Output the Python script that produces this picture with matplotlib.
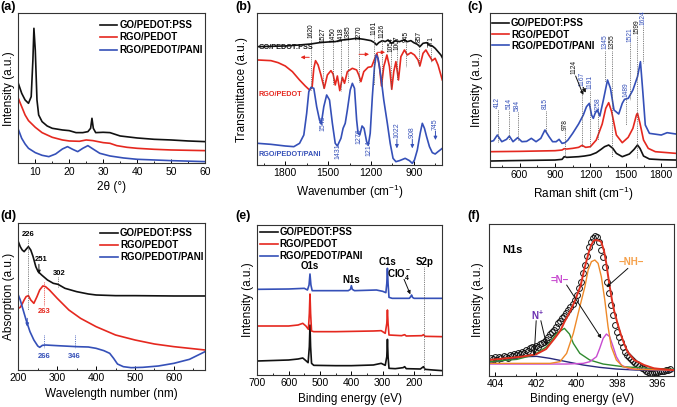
import numpy as np
import matplotlib
matplotlib.use('Agg')
import matplotlib.pyplot as plt
from matplotlib.ticker import MultipleLocator

plt.rcParams['font.family'] = ['Liberation Sans', 'DejaVu Sans']
plt.rcParams['mathtext.default'] = 'regular'

BLACK = '#111111'
RED = '#E5281F'
BLUE = '#3550B8'
GRAY = '#555555'
names = ['GO/PEDOT:PSS', 'RGO/PEDOT', 'RGO/PEDOT/PANI']

# (a) XRD
xrd_go_x = [5, 6, 7, 8, 8.8, 9.3, 9.6, 10, 10.5, 11, 12, 13.5, 15, 18, 20, 22, 24, 25.5, 26.3, 26.7, 27.1, 27.8, 30, 32, 33.5, 35, 40, 45, 50, 55, 60]
xrd_go_y = [240, 210, 190, 180, 200, 310, 405, 340, 190, 145, 125, 112, 105, 100, 98, 92, 92, 95, 105, 135, 105, 92, 93, 92, 87, 82, 76, 72, 70, 67, 65]
xrd_rgo_x = [5, 6, 7, 8, 10, 12, 15, 18, 20, 23, 25, 27, 30, 32, 34, 37, 40, 45, 50, 60]
xrd_rgo_y = [195, 170, 145, 128, 108, 92, 78, 70, 67, 66, 70, 68, 62, 60, 53, 48, 45, 42, 40, 38]
xrd_pani_x = [5, 6, 7, 8, 10, 12, 14, 16, 18, 19.5, 21, 22.5, 24, 25.5, 27, 29, 32, 36, 40, 50, 60]
xrd_pani_y = [102, 75, 58, 45, 32, 24, 20, 28, 43, 50, 42, 35, 45, 53, 43, 30, 22, 16, 12, 8, 5]

# (b) FTIR
ir_go_x = [1992, 1900, 1800, 1700, 1620, 1560, 1500, 1450, 1400, 1350, 1300, 1250, 1200, 1175, 1161, 1145, 1120, 1100, 1080, 1054, 1030, 1000, 970, 945, 920, 900, 875, 857, 835, 810, 790, 770, 750, 730, 710, 700]
ir_go_y = [355, 356, 357, 360, 363, 367, 369, 370, 375, 377, 380, 377, 373, 367, 360, 367, 373, 370, 375, 365, 373, 370, 375, 370, 373, 367, 362, 355, 365, 367, 360, 357, 350, 340, 330, 322]
ir_rgo_x = [1992, 1900, 1850, 1800, 1750, 1700, 1660, 1630, 1612, 1600, 1588, 1570, 1550, 1527, 1505, 1480, 1465, 1450, 1435, 1418, 1400, 1385, 1365, 1330, 1300, 1285, 1270, 1250, 1220, 1195, 1175, 1158, 1140, 1126, 1110, 1088, 1070, 1054, 1040, 1025, 1007, 990, 965, 945, 920, 895, 870, 857, 835, 815, 795, 780, 771, 750, 730, 700]
ir_rgo_y = [315, 313, 307, 297, 280, 255, 237, 225, 233, 290, 313, 300, 270, 230, 270, 283, 273, 240, 267, 223, 263, 245, 280, 290, 285, 270, 250, 280, 293, 295, 317, 335, 295, 237, 295, 330, 295, 227, 280, 310, 255, 325, 345, 330, 337, 330, 315, 297, 335, 345, 330, 320, 313, 320, 300, 255]
ir_pani_x = [1992, 1900, 1800, 1740, 1700, 1670, 1650, 1635, 1620, 1600, 1580, 1560, 1548, 1530, 1510, 1490, 1470, 1450, 1435, 1410, 1395, 1380, 1365, 1345, 1330, 1315, 1300, 1290, 1278, 1262, 1248, 1230, 1218, 1205, 1190, 1175, 1163, 1150, 1130, 1110, 1085, 1065, 1045, 1025, 1000, 960, 930, 910, 895, 875, 855, 840, 825, 810, 790, 770, 750, 730, 700]
ir_pani_y = [65, 62, 57, 55, 65, 90, 155, 220, 233, 230, 175, 135, 123, 175, 210, 195, 125, 65, 57, 80, 110, 125, 165, 225, 245, 230, 135, 95, 90, 117, 110, 70, 60, 95, 205, 295, 330, 320, 265, 195, 125, 65, 20, 10, 13, 20, 13, 5, 15, 45, 95, 125, 110, 85, 55, 37, 33, 40, 50]
ir_marks = [1620, 1527, 1450, 1418, 1385, 1270, 1161, 1126, 1054, 1007, 945, 857, 771]
ir_mark_x = [1620, 1538, 1466, 1412, 1358, 1283, 1178, 1120, 1062, 1015, 952, 864, 778]
ir_mark_top = [380, 370, 370, 370, 375, 375, 390, 380, 340, 345, 370, 370, 355]
ir_mark_end = [225, 230, 240, 223, 245, 250, 240, 237, 227, 255, 295, 297, 310]
ir_pani_marks = ['1545', '1431', '1276', '1214']
ir_pani_mx = [1538, 1434, 1283, 1217]
ir_pani_my = [125, 40, 85, 50]
ir_pani_arrows = ['1022', '908', '745']
ir_pani_ax = [1018, 910, 748]
ir_pani_ay = [80, 80, 105]

# (c) Raman
ra_go_x = [350, 500, 700, 900, 960, 978, 1000, 1050, 1100, 1150, 1200, 1250, 1290, 1320, 1355, 1390, 1420, 1470, 1530, 1570, 1599, 1620, 1650, 1700, 1800, 1925]
ra_go_y = [17, 18, 19, 20, 22, 30, 28, 29, 30, 32, 35, 42, 52, 60, 65, 55, 40, 30, 38, 52, 65, 55, 32, 23, 21, 20]
ra_rgo_x = [350, 600, 900, 960, 978, 1000, 1050, 1100, 1130, 1160, 1200, 1250, 1300, 1330, 1355, 1380, 1420, 1470, 1520, 1560, 1590, 1599, 1620, 1650, 1690, 1750, 1925]
ra_rgo_y = [45, 46, 48, 50, 54, 53, 55, 58, 64, 58, 60, 80, 128, 175, 192, 165, 95, 72, 88, 115, 155, 160, 130, 80, 55, 45, 40]
ra_pani_x = [350, 380, 412, 450, 490, 514, 545, 584, 620, 660, 700, 740, 780, 815, 850, 880, 910, 935, 960, 985, 1010, 1050, 1100, 1140, 1167, 1191, 1210, 1225, 1240, 1258, 1280, 1310, 1345, 1370, 1400, 1440, 1470, 1489, 1521, 1560, 1599, 1624, 1645, 1665, 1700, 1800, 1850, 1925]
ra_pani_y = [75, 78, 95, 75, 82, 92, 75, 87, 75, 76, 85, 75, 85, 110, 90, 75, 75, 82, 70, 72, 80, 100, 128, 155, 180, 190, 155, 145, 160, 170, 152, 200, 260, 235, 170, 158, 190, 202, 205, 230, 270, 315, 220, 125, 100, 95, 102, 98]
ra_marks = ['412', '514', '584', '815', '978', '1167', '1191', '1258', '1345', '1355', '1489', '1521', '1599', '1624']
ra_mark_x = [414, 513, 584, 821, 985, 1131, 1197, 1262, 1322, 1382, 1500, 1536, 1597, 1643]
ra_mark_top = [175, 172, 168, 172, 110, 242, 232, 165, 352, 352, 210, 375, 397, 425]
ra_mark_end = [70, 80, 80, 100, 25, 60, 60, 80, 255, 30, 125, 200, 25, 310]
ra_mark_col = ['b', 'b', 'b', 'b', 'k', 'b', 'b', 'b', 'b', 'k', 'b', 'b', 'k', 'b']

# (d) UV-vis
uv_go_x = [200, 205, 210, 215, 220, 226, 232, 238, 245, 251, 260, 275, 290, 302, 320, 350, 380, 400, 450, 500, 600, 680]
uv_go_y = [385, 370, 360, 355, 362, 370, 360, 340, 310, 295, 285, 270, 260, 257, 245, 235, 228, 225, 223, 223, 222, 222]
uv_rgo_x = [200, 205, 210, 215, 220, 226, 232, 240, 248, 255, 263, 270, 280, 300, 330, 360, 400, 450, 500, 550, 600, 680]
uv_rgo_y = [185, 188, 198, 210, 220, 223, 210, 200, 220, 240, 252, 250, 240, 215, 180, 155, 130, 105, 90, 78, 70, 60]
uv_pani_x = [200, 205, 210, 220, 230, 240, 250, 255, 262, 270, 300, 350, 380, 400, 420, 435, 445, 455, 470, 490, 520, 560, 600, 640, 680]
uv_pani_y = [225, 210, 190, 150, 115, 90, 72, 68, 74, 75, 73, 70, 69, 65, 58, 50, 35, 18, 10, 7, 8, 12, 20, 32, 55]

# (e) XPS survey
xps_go_x = [700, 600, 570, 555, 545, 538, 534, 532, 530, 527, 520, 450, 400, 330, 305, 292, 287, 285, 283, 280, 260, 235, 230, 225, 180, 170, 165, 140, 110]
xps_go_y = [42, 45, 48, 51, 43, 37, 85, 150, 85, 35, 29, 28, 28, 30, 35, 29, 55, 107, 55, 20, 19, 22, 25, 19, 18, 25, 17, 15, 13]
xps_rgo_x = [700, 600, 570, 555, 545, 537, 534, 532, 530, 527, 520, 450, 330, 305, 292, 287, 285, 283, 280, 240, 230, 225, 175, 170, 165, 110]
xps_rgo_y = [147, 147, 150, 155, 147, 137, 185, 243, 185, 132, 130, 130, 132, 133, 125, 155, 195, 155, 120, 118, 121, 117, 118, 121, 116, 115]
xps_pani_x = [700, 600, 550, 540, 535, 532, 529, 525, 410, 403, 400, 397, 390, 320, 300, 290, 287, 285, 283, 280, 270, 215, 210, 208, 205, 200, 110]
xps_pani_y = [257, 258, 260, 255, 270, 303, 270, 253, 253, 257, 268, 257, 253, 255, 251, 247, 275, 320, 275, 233, 230, 230, 236, 240, 233, 230, 230]

# (f) N1s
n1s_x = [404.2, 404.1, 404.0, 403.9, 403.8, 403.7, 403.6, 403.5, 403.4, 403.3, 403.2, 403.1, 403.0, 402.9, 402.8, 402.7, 402.6, 402.5, 402.4, 402.3, 402.2, 402.1, 402.0, 401.9, 401.8, 401.7, 401.6, 401.5, 401.4, 401.3, 401.2, 401.1, 401.0, 400.9, 400.8, 400.7, 400.6, 400.5, 400.4, 400.3, 400.2, 400.1, 400.0, 399.9, 399.8, 399.7, 399.6, 399.5, 399.4, 399.3, 399.2, 399.1, 399.0, 398.9, 398.8, 398.7, 398.6, 398.5, 398.4, 398.3, 398.2, 398.1, 398.0, 397.9, 397.8, 397.7, 397.6, 397.5, 397.4, 397.3, 397.2, 397.1, 397.0, 396.9, 396.8, 396.7, 396.6, 396.5, 396.4, 396.3, 396.2, 396.1, 396.0, 395.9, 395.8, 395.7, 395.6, 395.5, 395.4]
n1s_y = [52, 49, 55, 47, 57, 53, 59, 57, 52, 62, 59, 65, 61, 67, 64, 72, 69, 77, 75, 82, 85, 82, 89, 87, 95, 99, 102, 107, 115, 124, 131, 138, 147, 157, 165, 172, 180, 187, 197, 205, 215, 227, 242, 262, 282, 307, 332, 360, 385, 402, 413, 419, 415, 402, 377, 355, 327, 282, 247, 212, 182, 152, 132, 117, 102, 87, 72, 62, 55, 49, 44, 39, 35, 30, 24, 19, 13, 10, 8, 9, 10, 11, 12, 13, 14, 15, 16, 18, 19]
fit_x = [404.34, 403.5, 402.71, 402.0, 401.5, 401.08, 400.8, 400.59, 400.3, 400.1, 399.8, 399.61, 399.4, 399.28, 399.15, 399.04, 398.9, 398.79, 398.65, 398.55, 398.38, 398.25, 398.14, 397.95, 397.81, 397.65, 397.49, 397.16, 396.67, 396.18, 395.5, 395.2]
fit_y = [47, 52, 57, 64, 80, 112, 135, 162, 195, 222, 270, 322, 370, 392, 405, 407, 405, 402, 375, 342, 272, 225, 192, 150, 122, 95, 72, 47, 32, 22, 18, 17]
nh_x = [404.34, 401.3, 400.82, 400.49, 400.16, 399.84, 399.59, 399.43, 399.27, 399.1, 398.94, 398.78, 398.61, 398.45, 398.29, 398.04, 397.71, 397.06, 395.23]
nh_y = [37, 37, 42, 67, 127, 207, 267, 317, 342, 347, 337, 297, 227, 147, 87, 47, 27, 19, 17]
imine_x = [404.34, 400.5, 399.67, 399.35, 399.02, 398.86, 398.69, 398.53, 398.37, 398.2, 398.04, 397.8, 397.39, 395.23]
imine_y = [35, 35, 37, 42, 57, 82, 112, 125, 117, 87, 57, 32, 20, 17]
green_x = [404.34, 402.94, 402.12, 401.47, 400.98, 400.6, 400.35, 400.16, 399.84, 399.35, 398.69, 397.71, 396.41, 395.23]
green_y = [42, 49, 62, 87, 127, 142, 125, 97, 67, 47, 35, 27, 22, 19]
npos_x = [404.34, 403.43, 402.61, 401.96, 401.31, 400.49, 399.67, 398.86, 398.04, 397.06, 395.23]
npos_y = [40, 47, 57, 58, 52, 42, 32, 25, 20, 17, 15]

fig = plt.figure(figsize=(6.77, 4.07), dpi=100)
W, H = 677.0, 407.0


def make_ax(l, r, t, b):
	return fig.add_axes([l / W, 1 - b / H, (r - l) / W, (b - t) / H])


def setup(ax, xlim, ylim, major, minor, xlabel, ylabel, ypad):
	ax.set_xlim(*xlim)
	ax.set_ylim(*ylim)
	ax.xaxis.set_major_locator(MultipleLocator(major))
	ax.xaxis.set_minor_locator(MultipleLocator(minor))
	ax.set_yticks([])
	ax.tick_params(axis='x', which='both', direction='in', labelsize=7.5, pad=2.5)
	ax.tick_params(axis='x', which='major', length=3, width=0.7)
	ax.tick_params(axis='x', which='minor', length=1.7, width=0.6)
	ax.set_xlabel(xlabel, fontsize=8.5, labelpad=3)
	ax.set_ylabel(ylabel, fontsize=8.5, labelpad=ypad)
	for s in ax.spines.values():
		s.set_linewidth(0.8)
		s.set_color('#333333')


def dotted(ax, x, y0, y1, color=GRAY):
	ax.plot([x, x], [y0, y1], ls=(0, (1, 1.2)), color=color, lw=0.6)


def arrow(ax, x0, y0, x1, y1, color=BLACK, lw=0.7, ms=5):
	ax.annotate('', xy=(x1, y1), xytext=(x0, y0),
		arrowprops=dict(arrowstyle='-|>', color=color, lw=lw, mutation_scale=ms, shrinkA=0, shrinkB=0))


def legend(ax, x, y, spacing):
	ax.legend(loc='upper left', bbox_to_anchor=(x, y), frameon=False, borderpad=0, borderaxespad=0,
		handlelength=1.8, handletextpad=0.2, labelspacing=spacing,
		prop={'size': 7, 'weight': 'bold'})


lw = 1.2

# (a)
ax = make_ax(18.3, 205, 13.3, 163.3)
ax.plot(xrd_go_x, xrd_go_y, color=BLACK, lw=lw, label=names[0])
ax.plot(xrd_rgo_x, xrd_rgo_y, color=RED, lw=lw, label=names[1])
ax.plot(xrd_pani_x, xrd_pani_y, color=BLUE, lw=lw, label=names[2])
setup(ax, (5, 60), (0, 450), 10, 5, '2θ (°)', 'Intensity (a.u.)', 2.5)
legend(ax, 0.437, 0.955, 0.25)

# (b)
ax = make_ax(256.7, 442.3, 13.3, 165)
ax.plot(ir_go_x, ir_go_y, color=BLACK, lw=lw)
ax.plot(ir_rgo_x, ir_rgo_y, color=RED, lw=lw)
ax.plot(ir_pani_x, ir_pani_y, color=BLUE, lw=lw)
setup(ax, (2000, 700), (0, 455), 300, 150, 'Wavenumber (cm$^{-1}$)', 'Transmittance (a.u.)', 6)
for m, x, top, end in zip(ir_marks, ir_mark_x, ir_mark_top, ir_mark_end):
	ax.text(x, top, str(m), rotation=90, ha='center', va='bottom', fontsize=4.8)
	dotted(ax, x, top - 4, end)
for t, x, y in zip(ir_pani_marks, ir_pani_mx, ir_pani_my):
	ax.text(x, y, t, rotation=90, ha='center', va='center', fontsize=5, color=BLUE)
for t, x, y in zip(ir_pani_arrows, ir_pani_ax, ir_pani_ay):
	ax.text(x, y, t, rotation=90, ha='center', va='bottom', fontsize=5, color=BLUE)
	arrow(ax, x, y - 3, x, y - 30, color=BLUE)
ax.text(1985, 352, names[0], fontsize=5.2, fontweight='bold', color=BLACK, va='center')
ax.text(1990, 212, names[1], fontsize=5.2, fontweight='bold', color=RED, va='center')
ax.text(1990, 30, names[2], fontsize=5.2, fontweight='bold', color=BLUE, va='center')
arrow(ax, 1632, 323, 1692, 323, color=RED)
arrow(ax, 1283, 332, 1213, 332, color=RED)
arrow(ax, 1155, 338, 1101, 338, color=RED)

# (c)
ax = make_ax(490, 676, 13.3, 166.7)
ax.plot(ra_go_x, ra_go_y, color=BLACK, lw=lw, label=names[0])
ax.plot(ra_rgo_x, ra_rgo_y, color=RED, lw=lw, label=names[1])
ax.plot(ra_pani_x, ra_pani_y, color=BLUE, lw=lw, label=names[2])
setup(ax, (350, 1925), (0, 460), 300, 150, 'Raman shift (cm$^{-1}$)', 'Intensity (a.u.)', 5)
for t, x, top, end, c in zip(ra_marks, ra_mark_x, ra_mark_top, ra_mark_end, ra_mark_col):
	col = BLUE if c == 'b' else BLACK
	ax.text(x, top, t, rotation=90, ha='center', va='bottom', fontsize=4.8, color=col)
	dotted(ax, x, top - 4, end)
ax.text(1061, 278, '1124', rotation=90, ha='center', va='bottom', fontsize=4.8, color=BLACK)
arrow(ax, 1075, 272, 1140, 215)
arrow(ax, 1140, 238, 1160, 222)
legend(ax, 0.009, 0.967, 0.12)

# (d)
ax = make_ax(18.3, 205, 223.3, 370)
ax.plot(uv_go_x, uv_go_y, color=BLACK, lw=lw, label=names[0])
ax.plot(uv_rgo_x, uv_rgo_y, color=RED, lw=lw, label=names[1])
ax.plot(uv_pani_x, uv_pani_y, color=BLUE, lw=lw, label=names[2])
setup(ax, (200, 680), (0, 440), 100, 50, 'Wavelength number (nm)', 'Absorption (a.u.)', 2.5)
ax.text(226, 405, '226', ha='center', va='center', fontsize=5.5, fontweight='bold')
dotted(ax, 226, 392, 180)
ax.text(258, 330, '251', ha='center', va='center', fontsize=5.5, fontweight='bold')
arrow(ax, 253, 317, 253, 288)
ax.text(305, 288, '302', ha='center', va='center', fontsize=5.5, fontweight='bold')
dotted(ax, 302, 278, 248)
ax.text(266, 175, '263', ha='center', va='center', fontsize=5.5, fontweight='bold', color=RED)
dotted(ax, 266, 265, 192, color=RED)
arrow(ax, 223, 155, 223, 130, color=BLUE)
ax.text(266, 40, '266', ha='center', va='center', fontsize=5.5, fontweight='bold', color=BLUE)
dotted(ax, 266, 105, 65, color=BLUE)
ax.text(345, 40, '346', ha='center', va='center', fontsize=5.5, fontweight='bold', color=BLUE)
dotted(ax, 345, 105, 65, color=BLUE)
legend(ax, 0.44, 0.966, 0.2)

# (e)
ax = make_ax(257.3, 442.3, 225, 375)
ax.plot(xps_go_x, xps_go_y, color=BLACK, lw=lw, label=names[0])
ax.plot(xps_rgo_x, xps_rgo_y, color=RED, lw=lw, label=names[1])
ax.plot(xps_pani_x, xps_pani_y, color=BLUE, lw=lw, label=names[2])
setup(ax, (700, 110), (0, 450), 100, 50, 'Binding energy (eV)', 'Intensity (a.u.)', 2.5)
ax.text(532, 327, 'O1s', ha='center', va='center', fontsize=7, fontweight='bold')
ax.text(400, 285, 'N1s', ha='center', va='center', fontsize=7, fontweight='bold')
ax.text(285, 340, 'C1s', ha='center', va='center', fontsize=7, fontweight='bold')
ax.text(246, 303, 'ClO$_4^-$', ha='center', va='center', fontsize=7, fontweight='bold')
arrow(ax, 232, 287, 212, 242)
ax.text(165, 340, 'S2p', ha='center', va='center', fontsize=7, fontweight='bold')
dotted(ax, 168, 325, 10)
legend(ax, 0.015, 0.985, 0.2)

# (f)
ax = make_ax(489.3, 674, 224, 375.7)
ax.plot(n1s_x, n1s_y, 'o', mfc='none', mec=BLACK, ms=4.2, mew=0.7)
ax.plot(npos_x, npos_y, color='#2A2A7C', lw=1.0)
ax.plot(green_x, green_y, color='#2F8A2F', lw=1.0)
ax.plot(imine_x, imine_y, color='#C84BD0', lw=1.0)
ax.plot(nh_x, nh_y, color='#EE8A2A', lw=1.0)
ax.plot(fit_x, fit_y, color='#E03020', lw=1.4)
setup(ax, (404.3, 395.2), (0, 455), 2, 1, 'Binding energy (eV)', 'Intensity (a.u.)', 4)
ax.text(403.18, 377, 'N1s', ha='center', va='center', fontsize=8, fontweight='bold')
ax.text(397.3, 342, '−NH−', ha='center', va='center', fontsize=7, fontweight='bold', color='#F5A04A')
arrow(ax, 397.47, 322, 398.53, 265)
ax.text(400.82, 287, '=N−', ha='center', va='center', fontsize=7, fontweight='bold', color='#C84BD0')
arrow(ax, 400.49, 272, 398.78, 112)
ax.text(401.93, 182, 'N$^{+}$', ha='center', va='center', fontsize=7, fontweight='bold', color='#6A2FB0')
arrow(ax, 401.99, 165, 402.09, 60)
arrow(ax, 401.76, 165, 401.47, 90)

for lab, x, y in [('(a)', 0.0, 0.983), ('(b)', 0.347, 0.983), ('(c)', 0.691, 0.983),
		('(d)', 0.0, 0.469), ('(e)', 0.347, 0.469), ('(f)', 0.691, 0.469)]:
	fig.text(x, y, lab, fontsize=9, fontweight='bold', va='center', ha='left')

fig.savefig('out.png', dpi=100)
